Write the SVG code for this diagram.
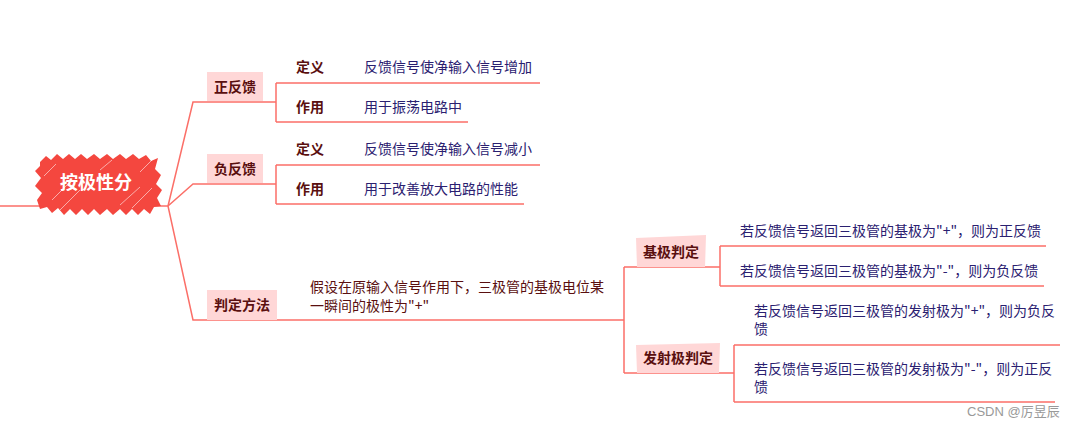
<svg xmlns="http://www.w3.org/2000/svg" width="1081" height="427" viewBox="0 0 1081 427">
<style>
.ln{fill:none;stroke:#fb6f68;stroke-width:1.5}
.tag{fill:#ffd7d7}
.lb{font-family:"Noto Sans CJK SC","Liberation Sans",sans-serif;font-size:14px;font-weight:bold;fill:#5a0f0f}
.tx{font-family:"Noto Sans CJK SC","Liberation Sans",sans-serif;font-size:14px;fill:#2a2070}
.ds{font-family:"Noto Sans CJK SC","Liberation Sans",sans-serif;font-size:14px;fill:#5a0f0f}
</style>
<rect width="1081" height="427" fill="#fff"/>
<g id="connectors">
<path class="ln" d="M0,206 H168 M168,206 L193,102 H276 M168,206 L193,184 H276 M168,206 L193,320 H624"/>
<path class="ln" d="M276,83 V122 M276,83 H540 M276,122 H468"/>
<path class="ln" d="M276,165 V204 M276,165 H540 M276,204 H524"/>
<path class="ln" d="M624,267 V373 M624,267 H720 M624,373 H734"/>
<path class="ln" d="M720,246 V286 M720,246 H1046 M720,286 H1044"/>
<path class="ln" d="M734,345 V402 M734,345 H1060 M734,402 H1055"/>
</g>
<g id="root">
<path fill="#f4473f" d="M40,162 L46,156 L51,160 L57,154 L63,159 L69,154 L75,159 L81,154 L87,159 L94,154 L100,159 L107,154 L113,159 L120,154 L126,159 L133,154 L139,159 L146,155 L151,161 L158,158 L155,169 L161,175 L156,184 L162,190 L157,198 L161,206 L154,207 L150,214 L144,209 L138,215 L132,209 L126,215 L120,209 L113,215 L107,209 L100,215 L94,209 L88,215 L82,209 L76,215 L70,209 L64,215 L58,208 L52,213 L47,207 L40,209 L37,200 L42,193 L35,186 L41,178 L35,171 L40,166 Z"/>
<path stroke="#fff" stroke-width="0.7" opacity="0.8" d="M52,200 L70,182 M60,210 L80,190 M120,205 L140,187 M132,208 L152,188 M100,170 L112,160 M140,172 L152,160 M44,176 L56,164"/>
<text x="96" y="189" text-anchor="middle" font-family="Noto Sans CJK SC,Liberation Sans,sans-serif" font-size="18" font-weight="bold" fill="#fff">按极性分</text>
</g>
<g id="n-zhengfankui">
<rect class="tag" x="207" y="72" width="56" height="29"/>
<text class="lb" x="235" y="92" text-anchor="middle">正反馈</text>
</g>
<g id="n-z-def"><text class="lb" x="296" y="72">定义</text><text class="tx" x="364" y="72">反馈信号使净输入信号增加</text></g>
<g id="n-z-use"><text class="lb" x="296" y="112">作用</text><text class="tx" x="364" y="112">用于振荡电路中</text></g>
<g id="n-fufankui">
<rect class="tag" x="207" y="154" width="56" height="29"/>
<text class="lb" x="235" y="174" text-anchor="middle">负反馈</text>
</g>
<g id="n-f-def"><text class="lb" x="296" y="154">定义</text><text class="tx" x="364" y="154">反馈信号使净输入信号减小</text></g>
<g id="n-f-use"><text class="lb" x="296" y="194">作用</text><text class="tx" x="364" y="194">用于改善放大电路的性能</text></g>
<g id="n-panding">
<rect class="tag" x="207" y="290" width="70" height="30"/>
<text class="lb" x="242" y="310" text-anchor="middle">判定方法</text>
</g>
<g id="n-assume">
<text class="ds" x="310" y="292">假设在原输入信号作用下，三极管的基极电位某</text>
<text class="ds" x="310" y="311">一瞬间的极性为"+"</text>
</g>
<g id="n-jiji">
<polygon class="tag" points="636,238 706,235 705,267 637,267"/>
<text class="lb" x="671" y="257" text-anchor="middle">基极判定</text>
</g>
<g id="n-jiji-plus"><text class="tx" x="740" y="236">若反馈信号返回三极管的基极为"+"，则为正反馈</text></g>
<g id="n-jiji-minus"><text class="tx" x="740" y="276">若反馈信号返回三极管的基极为"-"，则为负反馈</text></g>
<g id="n-fasheji">
<polygon class="tag" points="636,345 720,343 719,373 637,373"/>
<text class="lb" x="678" y="363" text-anchor="middle">发射极判定</text>
</g>
<g id="n-fsj-plus">
<text class="tx" x="754" y="316">若反馈信号返回三极管的发射极为"+"，则为负反</text>
<text class="tx" x="754" y="334">馈</text>
</g>
<g id="n-fsj-minus">
<text class="tx" x="754" y="374">若反馈信号返回三极管的发射极为"-"，则为正反</text>
<text class="tx" x="754" y="392">馈</text>
</g>
<text x="967" y="416" font-family="Liberation Sans,Noto Sans CJK SC,sans-serif" font-size="13" fill="#999">CSDN @厉昱辰</text>
</svg>
